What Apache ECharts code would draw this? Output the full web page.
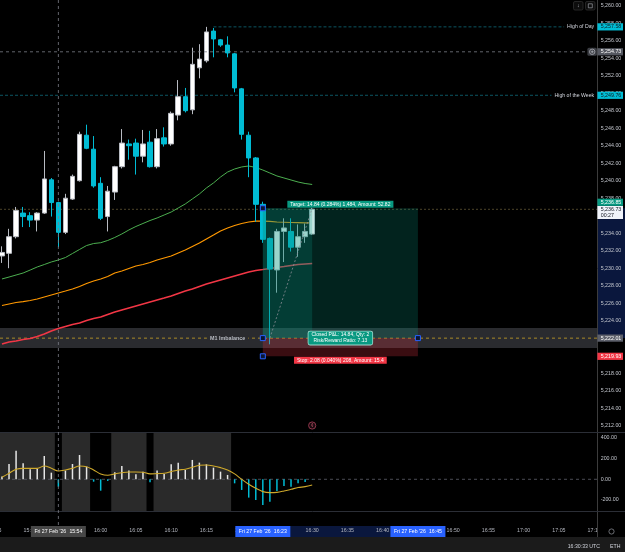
<!DOCTYPE html>
<html><head><meta charset="utf-8">
<script src="https://cdn.jsdelivr.net/npm/echarts@6/dist/echarts.min.js"></script>
<style>html,body{margin:0;padding:0;background:#000;}#c{width:625px;height:552px;}</style>
</head><body><div id="c"></div>
<script>
const FONT = '"Liberation Sans", Arial, sans-serif';

// ---- time categories (1-minute bars) ----
const times = [];
for (let t = 15 * 60 + 45; t <= 17 * 60 + 10; t++) {
  times.push(String(Math.floor(t / 60)).padStart(2, '0') + ':' + String(t % 60).padStart(2, '0'));
}
const firstBar = '15:46';

// ---- OHLC (15:46 .. 16:30) ----
const barOpen  = [5231.4,5231.7,5233.6,5236.3,5236.0,5235.5,5236.3,5240.1,5237.5,5234.1,5237.9,5240.0,5245.2,5243.6,5239.7,5235.9,5238.7,5241.6,5244.2,5244.3,5242.8,5244.4,5241.6,5244.9,5244.2,5247.5,5249.6,5248.1,5252.9,5253.7,5257.1,5256.1,5255.5,5254.5,5250.5,5245.2,5242.6,5237.3,5233.4,5229.8,5234.2,5234.2,5232.4,5233.6,5233.9];
const barClose = [5231.8,5233.6,5236.6,5235.9,5235.5,5236.3,5240.2,5237.5,5234.1,5238.0,5240.5,5245.3,5243.7,5239.4,5235.7,5238.8,5241.6,5244.3,5244.0,5242.8,5244.2,5241.6,5244.8,5244.2,5247.7,5249.6,5248.0,5253.3,5253.9,5257.0,5256.2,5255.5,5254.6,5250.6,5245.3,5242.6,5237.3,5233.3,5229.9,5234.2,5234.6,5232.4,5233.6,5234.2,5236.73];
const barLow   = [5230.6,5230.0,5233.4,5234.7,5234.7,5234.2,5236.2,5235.9,5232.4,5233.9,5237.8,5239.9,5243.6,5239.2,5235.5,5234.2,5237.8,5241.4,5242.4,5240.7,5242.1,5241.5,5241.4,5243.9,5244.0,5246.9,5247.8,5247.6,5251.7,5253.5,5254.1,5255.3,5254.1,5250.1,5244.7,5240.4,5235.3,5232.9,5221.3,5227.2,5230.7,5231.9,5231.3,5232.9,5233.8];
const barHigh  = [5232.5,5234.5,5237.0,5237.0,5236.4,5236.4,5243.4,5240.3,5237.6,5238.5,5240.7,5245.6,5246.4,5245.1,5240.4,5239.4,5241.7,5245.9,5244.7,5244.8,5245.8,5245.7,5245.9,5246.1,5247.9,5251.5,5250.6,5255.2,5255.6,5257.58,5257.45,5256.2,5256.5,5254.6,5250.6,5245.6,5242.7,5237.6,5233.5,5234.5,5235.7,5235.7,5235.0,5235.1,5236.9];

// ---- moving averages ----
const maFast = [5228.77,5228.99,5229.22,5229.45,5229.79,5230.14,5230.42,5230.71,5230.94,5231.22,5231.68,5232.14,5232.59,5232.82,5232.91,5233.17,5233.51,5233.91,5234.37,5234.77,5235.11,5235.45,5235.74,5236.08,5236.42,5236.88,5237.34,5237.91,5238.48,5239.17,5239.74,5240.42,5240.99,5241.34,5241.57,5241.68,5241.51,5241.22,5240.88,5240.54,5240.31,5240.08,5239.85,5239.68,5239.57];
const maMid  = [5225.74,5225.91,5226.08,5226.19,5226.31,5226.48,5226.71,5226.94,5227.17,5227.39,5227.62,5227.91,5228.25,5228.54,5228.77,5229.05,5229.45,5229.68,5229.97,5230.25,5230.42,5230.65,5230.94,5231.17,5231.39,5231.74,5232.08,5232.48,5232.88,5233.34,5233.79,5234.25,5234.59,5234.88,5235.11,5235.28,5235.39,5235.39,5235.34,5235.28,5235.25,5235.22,5235.20,5235.17,5235.17];
const maSlow = [5221.34,5221.57,5221.68,5221.85,5221.97,5222.19,5222.48,5222.82,5223.11,5223.34,5223.57,5223.74,5224.02,5224.25,5224.42,5224.71,5224.99,5225.22,5225.45,5225.68,5225.91,5226.14,5226.37,5226.59,5226.82,5227.11,5227.39,5227.62,5227.91,5228.19,5228.42,5228.65,5228.88,5229.11,5229.34,5229.57,5229.74,5229.85,5229.97,5230.08,5230.19,5230.31,5230.42,5230.48,5230.54];

// ---- oscillator pane ----
const histValues   = [26,148,277,155,97,100,225,64,-71,84,148,235,122,-23,-110,-16,68,129,84,48,74,-29,84,52,145,161,90,187,161,145,113,74,42,-39,-103,-177,-200,-248,-216,-113,-64,-71,-39,-26,-3];
const signalValues = [19,58,97,106,106,106,129,106,80,90,106,129,122,90,52,39,52,64,71,71,68,52,55,58,74,90,97,116,135,138,129,113,90,52,0,-48,-87,-119,-129,-126,-113,-97,-80,-71,-55];
const sessionStart = '15:45';
const sessionShaded = [1,1,1,1,1,1,1,1,1,0,1,1,1,1,0,0,0,1,1,1,1,1,0,1,1,1,1,1,1,1,1,1,1,1,0,0,0,0,0,0,0,0,0,0,0,0];

// ---- axes ----
const priceMin = 5211.28, priceMax = 5260.65;
const priceTicks = [5212,5214,5216,5218,5220,5222,5224,5226,5228,5230,5232,5234,5236,5238,5240,5242,5244,5246,5248,5250,5252,5254,5256,5258,5260];
const oscMin = -316, oscMax = 457;
const oscTicks = [-200, 0, 200, 400];

// ---- levels & drawings ----
const highOfDay = 5257.58, highOfDayFrom = '16:16';
const highOfWeek = 5249.76;
const lastPrice = 5236.73, lastCountdown = '00:27';
const crossPrice = 5254.73, crossTime = '15:54';
const imbTop = 5223.17, imbBottom = 5220.88, imbLevel = 5222.01, imbLabelAt = '16:18';
const entryPrice = 5222.01, targetPrice = 5236.85, stopPrice = 5219.93;
const toolStart = '16:23', toolEnd = '16:45', fillTime = '16:24', exitTime = '16:30';
const targetText = 'Target: 14.84 (0.284%) 1,484, Amount: 52.82';
const closedText = 'Closed P&L: 14.84, Qty: 2\nRisk/Reward Ratio: 7.13';
const stopText = 'Stop: 2.08 (0.040%) 208, Amount: 15.4';
const dateText = "Fri 27 Feb '26";
const clockText = '16:30:33 UTC', sessionText = 'ETH';

const idx = t => times.indexOf(t);
const off = idx(firstBar);
const pad = arr => times.map((t, i) => { const j = i - off; return (j >= 0 && j < arr.length) ? arr[j] : '-'; });
const candleData = times.map((t, i) => { const j = i - off; return (j >= 0 && j < barOpen.length) ? [barOpen[j], barClose[j], barLow[j], barHigh[j]] : ['-', '-', '-', '-']; });
const fmt = v => Number(v).toLocaleString('en-US', { minimumFractionDigits: 2, maximumFractionDigits: 2 });

const sOff = idx(sessionStart);
const runs = []; let rs = -1;
sessionShaded.forEach((f, k) => { if (f && rs < 0) rs = k; if (!f && rs >= 0) { runs.push([sOff + rs, sOff + k - 1]); rs = -1; } });
if (rs >= 0) runs.push([sOff + rs, sOff + sessionShaded.length - 1]);

const f5 = (s, w) => (w || 'normal') + ' ' + s + 'px ' + FONT;

function txt(x, y, text, o) {
  return { type: 'text', x: x, y: y, z2: 10, style: Object.assign({ text: text, fill: '#d1d4dc', font: f5(5.2), align: 'left', verticalAlign: 'middle' }, o || {}) };
}

const chart = echarts.init(document.getElementById('c'), null, { renderer: 'canvas', width: 625, height: 552 });

const option = {
  backgroundColor: '#000',
  animation: false,
  grid: [
    { left: -8.6, top: 0, width: 606.3, height: 432, outerBoundsMode: 'none', containLabel: false },
    { left: -8.6, top: 432, width: 606.3, height: 80, outerBoundsMode: 'none', containLabel: false }
  ],
  xAxis: [
    { type: 'category', gridIndex: 0, data: times, boundaryGap: true, show: false },
    { type: 'category', gridIndex: 1, data: times, boundaryGap: true, z: 5,
      axisLine: { show: false }, axisTick: { show: false }, splitLine: { show: false },
      axisLabel: { interval: 0, margin: 16.5, fontSize: 5.3, fontFamily: FONT, color: '#b2b5be',
        formatter: v => (parseInt(v.slice(3), 10) % 5 === 0 ? v : '') } }
  ],
  yAxis: [
    { type: 'value', gridIndex: 0, position: 'right', min: priceMin, max: priceMax, z: 5,
      splitLine: { show: false }, axisLine: { show: false }, axisTick: { show: false },
      axisLabel: { customValues: priceTicks, margin: 3, fontSize: 5.3, fontFamily: FONT, color: '#c3c6cd', formatter: v => fmt(v) } },
    { type: 'value', gridIndex: 1, position: 'right', min: oscMin, max: oscMax, z: 5,
      splitLine: { show: false }, axisLine: { show: false }, axisTick: { show: false },
      axisLabel: { customValues: oscTicks, margin: 3, fontSize: 5.3, fontFamily: FONT, color: '#c3c6cd', formatter: v => Number(v).toFixed(2) } }
  ],
  series: [
    // imbalance band
    { type: 'custom', xAxisIndex: 0, yAxisIndex: 0, z: 1, data: [[0, imbLevel]], encode: { x: 0, y: 1 }, silent: true,
      renderItem: (p, api) => {
        const c = p.coordSys;
        const y1 = api.coord([0, imbTop])[1], y2 = api.coord([0, imbBottom])[1], yl = api.coord([0, imbLevel])[1];
        const x0 = Math.max(c.x, 0), x1 = c.x + c.width;
        const lx = api.coord([idx(imbLabelAt), imbLevel])[0];
        return { type: 'group', children: [
          { type: 'rect', shape: { x: x0, y: y1, width: x1 - x0, height: y2 - y1 }, style: { fill: '#2a2b2f' } },
          { type: 'line', shape: { x1: x0, y1: yl, x2: x1, y2: yl }, style: { stroke: '#c9a227', lineWidth: 0.8, lineDash: [3, 3] } },
          txt(lx, yl, 'M1 Imbalance', { align: 'center', fill: '#b8bbc2', font: f5(5.4, 'bold'), backgroundColor: '#2a2b2f', padding: [0, 3] })
        ] };
      } },
    // horizontal levels
    { type: 'custom', xAxisIndex: 0, yAxisIndex: 0, z: 2, data: [[0, lastPrice]], encode: { x: 0, y: 1 }, silent: true,
      renderItem: (p, api) => {
        const c = p.coordSys;
        const x0 = Math.max(c.x, 0), xr = c.x + c.width;
        const yD = api.coord([0, highOfDay])[1], yW = api.coord([0, highOfWeek])[1], yL = api.coord([0, lastPrice])[1];
        const xD = api.coord([idx(highOfDayFrom), highOfDay])[0];
        return { type: 'group', children: [
          { type: 'line', shape: { x1: x0, y1: yL, x2: xr, y2: yL }, style: { stroke: '#4d4428', lineWidth: 1, lineDash: [2, 2] } },
          { type: 'line', shape: { x1: xD, y1: yD, x2: xr - 4, y2: yD }, style: { stroke: '#0c5561', lineWidth: 1, lineDash: [3, 2] } },
          { type: 'line', shape: { x1: x0, y1: yW, x2: xr - 4, y2: yW }, style: { stroke: '#0c5561', lineWidth: 1, lineDash: [3, 2] } },
          txt(xr - 3.5, yD, 'High of Day', { align: 'right', backgroundColor: '#000', padding: [1, 0, 1, 3], fill: '#d1d4dc' }),
          txt(xr - 3.5, yW, 'High of the Week', { align: 'right', backgroundColor: '#000', padding: [1, 0, 1, 3], fill: '#d1d4dc' })
        ] };
      } },
    { type: 'line', xAxisIndex: 0, yAxisIndex: 0, z: 2, data: pad(maFast), symbol: 'none', lineStyle: { color: '#4caf50', width: 1 }, silent: true },
    { type: 'line', xAxisIndex: 0, yAxisIndex: 0, z: 2, data: pad(maMid), symbol: 'none', lineStyle: { color: '#ff9800', width: 1.2 }, silent: true },
    { type: 'line', xAxisIndex: 0, yAxisIndex: 0, z: 2, data: pad(maSlow), symbol: 'none', lineStyle: { color: '#f23645', width: 1.6 }, silent: true },
    { type: 'candlestick', xAxisIndex: 0, yAxisIndex: 0, z: 3, data: candleData, barWidth: 5, silent: true,
      itemStyle: { color: '#ffffff', color0: '#00bcd4', borderColor: '#b8bbc2', borderColor0: '#00bcd4', borderWidth: 1 } },
    // long position tool
    { type: 'custom', xAxisIndex: 0, yAxisIndex: 0, z: 4, data: [[0, entryPrice]], encode: { x: 0, y: 1 }, silent: true, clip: false,
      renderItem: (p, api) => {
        const xL = api.coord([idx(toolStart), entryPrice])[0], xR = api.coord([idx(toolEnd), entryPrice])[0];
        const xF = api.coord([idx(fillTime), entryPrice])[0], xX = api.coord([idx(exitTime), entryPrice])[0];
        const yT = api.coord([0, targetPrice])[1], yE = api.coord([0, entryPrice])[1], yS = api.coord([0, stopPrice])[1];
        const mid = (xL + xR) / 2;
        const h = (x, y) => ({ type: 'rect', z2: 20, shape: { x: x - 2.5, y: y - 2.5, width: 5, height: 5 }, style: { fill: '#0b1633', stroke: '#2962ff', lineWidth: 1 } });
        return { type: 'group', children: [
          { type: 'rect', shape: { x: xL, y: yT, width: xR - xL, height: yE - yT }, style: { fill: 'rgba(8,153,129,0.23)' } },
          { type: 'rect', shape: { x: xL, y: yT, width: xX - xL, height: yE - yT }, style: { fill: 'rgba(8,153,129,0.23)' } },
          { type: 'rect', shape: { x: xL, y: yE, width: xR - xL, height: yS - yE }, style: { fill: 'rgba(242,54,69,0.24)' } },
          { type: 'line', shape: { x1: xF, y1: yE, x2: xX, y2: yT }, style: { stroke: '#8a8d96', lineWidth: 0.8, lineDash: [2, 2] } },
          txt(mid, yT - 0.5, targetText, { align: 'center', verticalAlign: 'bottom', fill: '#fff', font: f5(5), backgroundColor: '#089981', padding: [1, 3, 1, 3] }),
          txt(mid, yE, closedText, { align: 'center', fill: '#fff', font: f5(5), lineHeight: 6, backgroundColor: '#089981', borderColor: '#9fd8cd', borderWidth: 0.8, borderRadius: 1.5, padding: [0.5, 3, 0.5, 3] }),
          txt(mid, yS + 0.5, stopText, { align: 'center', verticalAlign: 'top', fill: '#fff', font: f5(5), backgroundColor: '#f23645', padding: [1, 3, 1, 3] }),
          h(xL, yT), h(xL, yE), h(xL, yS), h(xR, yE)
        ] };
      } },
    // event marker
    { type: 'custom', xAxisIndex: 0, yAxisIndex: 0, z: 4, data: [[idx(exitTime), entryPrice]], encode: { x: 0, y: 1 }, silent: true,
      renderItem: (p, api) => {
        const c = p.coordSys; const x = api.coord([api.value(0), entryPrice])[0]; const y = c.y + c.height - 6.5;
        return { type: 'group', children: [
          { type: 'circle', shape: { cx: x, cy: y, r: 3.6 }, style: { fill: '#1a0a0e', stroke: '#9c3b52', lineWidth: 0.9 } },
          txt(x, y, '¢', { align: 'center', fill: '#d0607a', font: f5(4.5) })
        ] };
      } },
    // crosshair (main pane)
    { type: 'custom', xAxisIndex: 0, yAxisIndex: 0, z: 15, data: [[idx(crossTime), crossPrice]], encode: { x: 0, y: 1 }, silent: true, clip: false,
      renderItem: (p, api) => {
        const c = p.coordSys; const pt = api.coord([api.value(0), crossPrice]);
        return { type: 'group', children: [
          { type: 'line', shape: { x1: 0, y1: pt[1], x2: 587, y2: pt[1] }, style: { stroke: '#7b7e88', lineWidth: 0.8, lineDash: [3, 3] } },
          { type: 'line', shape: { x1: pt[0], y1: c.y, x2: pt[0], y2: c.y + c.height }, style: { stroke: '#7b7e88', lineWidth: 0.8, lineDash: [3, 3] } }
        ] };
      } },
    // axis highlight band (price axis)
    { type: 'custom', xAxisIndex: 0, yAxisIndex: 0, z: 1, data: [[0, entryPrice]], encode: { x: 0, y: 1 }, silent: true, clip: false,
      renderItem: (p, api) => {
        const c = p.coordSys; const ax = c.x + c.width;
        const yT = api.coord([0, targetPrice])[1], yE = api.coord([0, entryPrice])[1];
        return { type: 'rect', shape: { x: ax, y: yT, width: 625 - ax, height: yE - yT }, style: { fill: 'rgba(41,98,255,0.24)' } };
      } },
    // price axis tags
    { type: 'custom', xAxisIndex: 0, yAxisIndex: 0, z: 20, data: [[0, lastPrice]], encode: { x: 0, y: 1 }, silent: true, clip: false,
      renderItem: (p, api) => {
        const c = p.coordSys; const ax = c.x + c.width - 0.3;
        const Y = v => api.coord([0, v])[1];
        const tag = (y, text, bg, fg) => [
          { type: 'rect', shape: { x: ax, y: y - 3.6, width: 625 - ax - 2, height: 7.2 }, style: { fill: bg } },
          txt(ax + 3.3, y, text, { fill: fg, font: f5(5.3) })
        ];
        const yC = Y(crossPrice), yL = Y(lastPrice);
        const kids = [].concat(
          tag(Y(highOfDay), fmt(highOfDay), '#00bcd4', '#0f1a1f'),
          tag(Y(highOfWeek), fmt(highOfWeek), '#00bcd4', '#0f1a1f'),
          tag(yC, fmt(crossPrice), '#555861', '#ffffff'),
          tag(Y(targetPrice) - 6, fmt(targetPrice), '#089981', '#ffffff'),
          tag(Y(entryPrice), fmt(entryPrice), '#5d606b', '#ffffff'),
          tag(Y(stopPrice), fmt(stopPrice), '#f23645', '#ffffff'),
          [
            { type: 'rect', shape: { x: ax, y: yL - 3.3, width: 625 - ax - 2, height: 13 }, style: { fill: '#f0f3fa' } },
            txt(ax + 3.3, yL, fmt(lastPrice), { fill: '#131722', font: f5(5.3) }),
            txt(ax + 3.3, yL + 6.3, lastCountdown, { fill: '#131722', font: f5(5.3) }),
            { type: 'rect', shape: { x: ax - 10, y: yC - 4, width: 9.5, height: 8, r: 1.5 }, style: { fill: '#3a3c42' } },
            { type: 'circle', shape: { cx: ax - 5.2, cy: yC, r: 2.7 }, style: { fill: 'none', stroke: '#d1d4dc', lineWidth: 0.6 } },
            { type: 'line', shape: { x1: ax - 6.7, y1: yC, x2: ax - 3.7, y2: yC }, style: { stroke: '#d1d4dc', lineWidth: 0.6 } },
            { type: 'line', shape: { x1: ax - 5.2, y1: yC - 1.5, x2: ax - 5.2, y2: yC + 1.5 }, style: { stroke: '#d1d4dc', lineWidth: 0.6 } }
          ]
        );
        return { type: 'group', children: kids };
      } },
    // oscillator: session shading
    { type: 'custom', xAxisIndex: 1, yAxisIndex: 1, z: 1, data: runs, encode: { x: [0, 1], y: -1 }, silent: true,
      renderItem: (p, api) => {
        const c = p.coordSys; const w = api.size([1, 0])[0];
        const a = api.coord([api.value(0), 0])[0] - w / 2, b = api.coord([api.value(1), 0])[0] + w / 2;
        const L = Math.max(a, c.x, 0), R = Math.min(b, c.x + c.width);
        return { type: 'rect', shape: { x: L, y: c.y, width: R - L, height: c.height }, style: { fill: '#2a2a2a' } };
      } },
    // oscillator zero line
    { type: 'custom', xAxisIndex: 1, yAxisIndex: 1, z: 2, data: [[0, 0]], encode: { x: 0, y: 1 }, silent: true,
      renderItem: (p, api) => {
        const c = p.coordSys; const y = api.coord([0, 0])[1];
        return { type: 'line', shape: { x1: Math.max(c.x, 0), y1: y, x2: c.x + c.width, y2: y }, style: { stroke: '#5d606b', lineWidth: 0.8, lineDash: [3, 3] } };
      } },
    { type: 'bar', xAxisIndex: 1, yAxisIndex: 1, z: 3, data: pad(histValues), barWidth: 1.5, silent: true,
      itemStyle: { color: pp => (pp.value >= 0 ? '#e6e6e6' : '#00bcd4') } },
    { type: 'line', xAxisIndex: 1, yAxisIndex: 1, z: 4, data: pad(signalValues), symbol: 'none', smooth: 0.35, silent: true,
      lineStyle: { color: '#cfa92b', width: 1.1 } },
    // crosshair (oscillator pane + time axis) and time tags
    { type: 'custom', xAxisIndex: 1, yAxisIndex: 1, z: 15, data: [[idx(crossTime), 0]], encode: { x: 0, y: 1 }, silent: true, clip: false,
      renderItem: (p, api) => {
        const c = p.coordSys; const x = api.coord([api.value(0), 0])[0];
        return { type: 'line', shape: { x1: x, y1: c.y, x2: x, y2: c.y + c.height + 14 }, style: { stroke: '#7b7e88', lineWidth: 0.8, lineDash: [3, 3] } };
      } },
    { type: 'custom', xAxisIndex: 1, yAxisIndex: 1, z: 1, data: [[0, 0]], encode: { x: 0, y: 1 }, silent: true, clip: false,
      renderItem: (p, api) => {
        const c = p.coordSys; const y0 = c.y + c.height + 14;
        const a = api.coord([idx(toolStart), 0])[0], b = api.coord([idx(toolEnd), 0])[0];
        return { type: 'rect', shape: { x: a, y: y0, width: b - a, height: 11 }, style: { fill: 'rgba(41,98,255,0.24)' } };
      } },
    { type: 'custom', xAxisIndex: 1, yAxisIndex: 1, z: 20, data: [[0, 0]], encode: { x: 0, y: 1 }, silent: true, clip: false,
      renderItem: (p, api) => {
        const c = p.coordSys; const y0 = c.y + c.height + 14;
        const box = (t, bg) => {
          const x = api.coord([idx(t), 0])[0];
          return [
            { type: 'rect', shape: { x: x - 27.5, y: y0, width: 55, height: 11 }, style: { fill: bg } },
            txt(x - 24, y0 + 5.5, dateText, { fill: '#ffffff', font: f5(5.2) }),
            txt(x + 24, y0 + 5.5, t, { fill: '#ffffff', font: f5(5.2), align: 'right' })
          ];
        };
        return { type: 'group', children: [].concat(box(crossTime, '#474747'), box(toolStart, '#2962ff'), box(toolEnd, '#2962ff')) };
      } }
  ],
  graphic: [
    { type: 'rect', z: 6, shape: { x: 598, y: 512, width: 27, height: 25 }, style: { fill: '#000' } },
    { type: 'line', z: 10, shape: { x1: 597.5, y1: 0, x2: 597.5, y2: 537 }, style: { stroke: '#3c3c3c', lineWidth: 1 } },
    { type: 'line', z: 10, shape: { x1: 0, y1: 432.5, x2: 625, y2: 432.5 }, style: { stroke: '#2b2e36', lineWidth: 1 } },
    { type: 'line', z: 10, shape: { x1: 0, y1: 511.5, x2: 625, y2: 511.5 }, style: { stroke: '#2b2e36', lineWidth: 1 } },
    { type: 'circle', z: 11, shape: { cx: 611.5, cy: 531.5, r: 2.6 }, style: { fill: 'none', stroke: '#9598a1', lineWidth: 0.7 } },
    { type: 'rect', z: 30, shape: { x: 0, y: 537, width: 625, height: 15 }, style: { fill: '#1b1b1b' } },
    { type: 'text', z: 31, x: 600, y: 546.5, style: { text: clockText, fill: '#d1d4dc', font: f5(5.2), align: 'right', verticalAlign: 'middle' } },
    { type: 'text', z: 31, x: 610, y: 546.5, style: { text: sessionText, fill: '#d1d4dc', font: f5(5.2), align: 'left', verticalAlign: 'middle' } },
    { type: 'rect', z: 30, shape: { x: 573.5, y: 1.5, width: 9.5, height: 8.5, r: 1.5 }, style: { fill: '#0d0d0d', stroke: '#2e2e2e', lineWidth: 0.8 } },
    { type: 'text', z: 31, x: 578.3, y: 5.8, style: { text: '↓', fill: '#b2b5be', font: f5(5.5), align: 'center', verticalAlign: 'middle' } },
    { type: 'rect', z: 30, shape: { x: 585.5, y: 1.5, width: 9.5, height: 8.5, r: 1.5 }, style: { fill: '#0d0d0d', stroke: '#2e2e2e', lineWidth: 0.8 } },
    { type: 'rect', z: 31, shape: { x: 588.3, y: 3.8, width: 4, height: 4 }, style: { fill: 'none', stroke: '#b2b5be', lineWidth: 0.6 } }
  ]
};
chart.setOption(option);
</script>
</body></html>
